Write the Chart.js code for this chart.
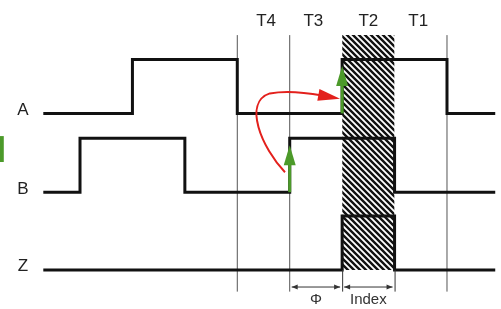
<!DOCTYPE html>
<html>
<head>
<meta charset="utf-8">
<script src="https://cdn.jsdelivr.net/npm/chart.js@4/dist/chart.umd.min.js"></script>
<style>
  html, body { margin: 0; padding: 0; background: #fff; }
  #c { display: block; }
</style>
</head>
<body>
<canvas id="c" width="501" height="309"></canvas>
<script>
// ==== Data (time in quarter periods, levels 0/1) ====
const signalNames = ['A', 'B', 'Z'];
const laneBase = [2.9, 1.44, 0];
const edgesA = [-0.7, 1, 3, 5, 7, 7.92];
const levelsA = [0, 1, 0, 1, 0, 0];
const edgesB = [-0.7, 0, 2, 4, 6, 7.92];
const levelsB = [0, 1, 0, 1, 0, 0];
const edgesZ = [-0.7, 5, 6, 7.92];
const levelsZ = [0, 1, 0, 0];
const phaseLabels = ['T4', 'T3', 'T2', 'T1'];
const phaseMid = [3.55, 4.45, 5.5, 6.45];
const markerTimes = [3, 4, 7];
const indexWindow = [5, 6];
const phiWindow = [4, 5];
const dimLabels = ['Φ', 'Index'];

const topV = 4.35, bottomV = -0.4;

function toPoints(edges, levels, base) {
  return edges.map((t, i) => ({ x: t, y: base + levels[i] }));
}

// hatch pattern
function makeHatch() {
  const s = 6;
  const c = document.createElement('canvas');
  c.width = s; c.height = s;
  const g = c.getContext('2d');
  g.fillStyle = '#fff';
  g.fillRect(0, 0, s, s);
  g.strokeStyle = '#111';
  g.lineWidth = 2.4;
  g.beginPath();
  g.moveTo(0, 0); g.lineTo(s, s);
  g.moveTo(-2, s - 2); g.lineTo(2, s + 2);
  g.moveTo(s - 2, -2); g.lineTo(s + 2, 2);
  g.stroke();
  return g.createPattern(c, 'repeat');
}

const signalSets = [
  [edgesA, levelsA], [edgesB, levelsB], [edgesZ, levelsZ]
].map((s, i) => ({
  data: toPoints(s[0], s[1], laneBase[i]),
  stepped: 'before',
  borderColor: '#111',
  borderWidth: 3,
  pointRadius: 0,
  fill: false
}));

const markerSets = markerTimes.map(t => ({
  data: [{ x: t, y: bottomV }, { x: t, y: topV }],
  borderColor: '#555',
  borderWidth: 1,
  pointRadius: 0,
  fill: false
}));

const hatchSet = {
  data: [{ x: indexWindow[0], y: topV }, { x: indexWindow[1], y: topV }],
  borderWidth: 0,
  borderColor: 'rgba(0,0,0,0)',
  backgroundColor: makeHatch(),
  pointRadius: 0,
  fill: 'origin'
};

// ==== Annotations ====
function arrowHead(ctx, x1, y1, x2, y2, len, half) {
  const a = Math.atan2(y2 - y1, x2 - x1);
  ctx.beginPath();
  ctx.moveTo(x2, y2);
  ctx.lineTo(x2 - len * Math.cos(a) + half * Math.sin(a), y2 - len * Math.sin(a) - half * Math.cos(a));
  ctx.lineTo(x2 - len * Math.cos(a) - half * Math.sin(a), y2 - len * Math.sin(a) + half * Math.cos(a));
  ctx.closePath();
  ctx.fill();
}

const annotate = {
  id: 'annotate',
  afterDatasetsDraw(chart) {
    const ctx = chart.ctx;
    const X = v => chart.scales.x.getPixelForValue(v);
    const Y = v => chart.scales.y.getPixelForValue(v);
    ctx.save();

    // labels
    ctx.fillStyle = '#222';
    ctx.textAlign = 'center';
    ctx.textBaseline = 'middle';
    ctx.font = '17px "Liberation Sans", Arial, sans-serif';
    phaseLabels.forEach((l, i) => ctx.fillText(l, X(phaseMid[i]), Y(4.6)));
    signalNames.forEach((n, i) => ctx.fillText(n, X(-1.09), Y(laneBase[i] + 0.06)));

    // small green mark at the left edge
    ctx.fillStyle = '#4c9a2a';
    ctx.fillRect(X(-1.53), Y(2.48), 4, Y(2.0) - Y(2.48));

    // red curved arrow
    ctx.strokeStyle = '#e3201c';
    ctx.fillStyle = '#e3201c';
    ctx.lineWidth = 2;
    ctx.beginPath();
    ctx.moveTo(X(3.91), Y(1.81));
    ctx.bezierCurveTo(X(3.47), Y(2.26), X(3.1), Y(3.1), X(3.62), Y(3.27));
    ctx.bezierCurveTo(X(4.0), Y(3.34), X(4.4), Y(3.27), X(4.62), Y(3.23));
    ctx.stroke();
    arrowHead(ctx, X(4.5), Y(3.25), X(4.96), Y(3.17), 22, 6);

    // green arrows
    ctx.strokeStyle = '#4c9a2a';
    ctx.fillStyle = '#4c9a2a';
    ctx.lineWidth = 3;
    [[phiWindow[0], laneBase[1], 2.31], [indexWindow[0], laneBase[0], 3.78]].forEach(g => {
      ctx.beginPath();
      ctx.moveTo(X(g[0]), Y(g[1]));
      ctx.lineTo(X(g[0]), Y(g[2]) + 10);
      ctx.stroke();
      arrowHead(ctx, X(g[0]), Y(g[1]), X(g[0]), Y(g[2]), 20, 6);
    });

    // dimension lines
    ctx.strokeStyle = '#333';
    ctx.fillStyle = '#333';
    ctx.lineWidth = 1;
    indexWindow.forEach(t => {
      ctx.beginPath();
      ctx.moveTo(X(t) + 0.5, Y(0));
      ctx.lineTo(X(t) + 0.5, Y(bottomV));
      ctx.stroke();
    });
    const dy = Y(-0.315);
    [phiWindow, indexWindow].forEach((w, i) => {
      const x1 = X(w[0]) + 2, x2 = X(w[1]) - 2;
      ctx.beginPath();
      ctx.moveTo(x1, dy); ctx.lineTo(x2, dy);
      ctx.stroke();
      arrowHead(ctx, x2, dy, x1, dy, 6, 2.5);
      arrowHead(ctx, x1, dy, x2, dy, 6, 2.5);
      ctx.fillStyle = '#333';
      ctx.font = '15px "Liberation Sans", Arial, sans-serif';
      ctx.fillText(dimLabels[i], (X(w[0]) + X(w[1])) / 2, Y(-0.56));
    });

    ctx.restore();
  }
};

new Chart(document.getElementById('c'), {
  type: 'line',
  data: { datasets: [...signalSets, ...markerSets, hatchSet] },
  options: {
    responsive: false,
    animation: false,
    devicePixelRatio: 1,
    layout: { padding: 0 },
    plugins: { legend: { display: false }, tooltip: { enabled: false } },
    scales: {
      x: { type: 'linear', min: -1.526, max: 8.03, display: false },
      y: { type: 'linear', min: -0.722, max: 5.0, display: false }
    }
  },
  plugins: [annotate]
});
</script>
</body>
</html>
